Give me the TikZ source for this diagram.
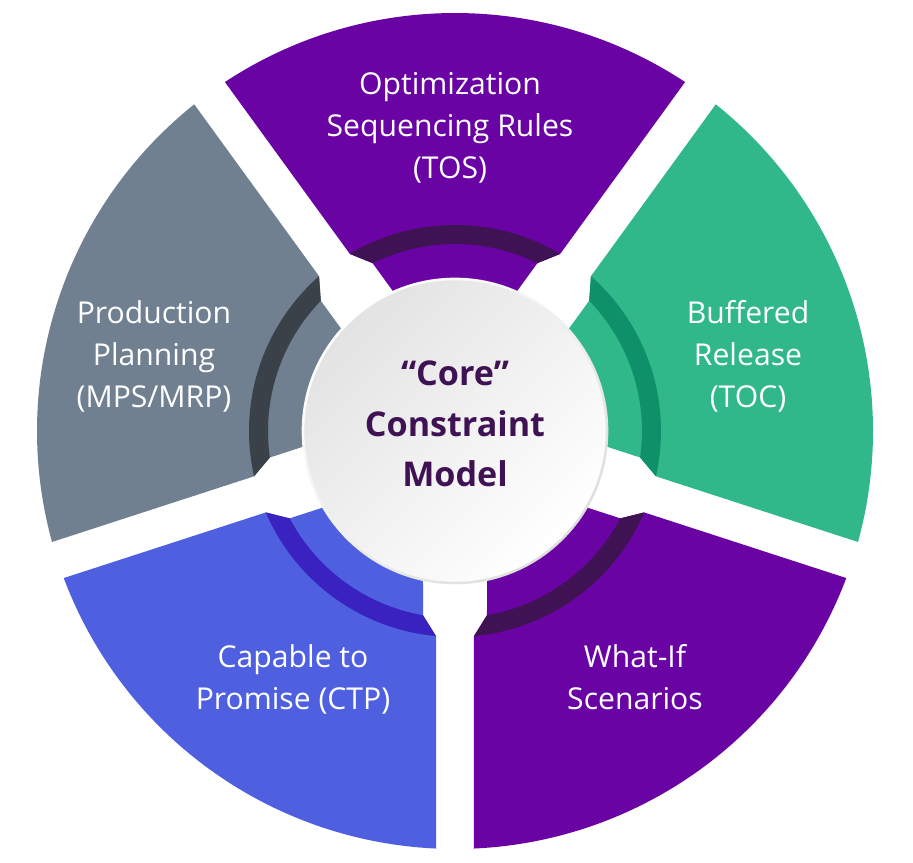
\documentclass[tikz,border=0pt]{standalone}
\usepackage{fontspec}
\setmainfont{Open Sans}
\usepackage{tikz}
\definecolor{plum}{HTML}{6A03A3}
\definecolor{plumdark}{HTML}{3F1253}
\definecolor{jade}{HTML}{31B88A}
\definecolor{jadedark}{HTML}{0E9068}
\definecolor{slate}{HTML}{708090}
\definecolor{slatedark}{HTML}{3A4149}
\definecolor{royal}{HTML}{4E60E0}
\definecolor{royaldark}{HTML}{3A22C0}
\definecolor{rimgray}{HTML}{DEDEDE}
\tikzstyle{label}=[text=white,align=center,font=\fontsize{22.6}{31.5}\selectfont]
\tikzstyle{rim}=[circle,minimum size=230pt,inner sep=0pt,top color=white,bottom color=rimgray,shading angle=45]
\tikzstyle{disc}=[circle,minimum size=226pt,inner sep=0pt,top color=black!11,bottom color=white,shading angle=45]
\tikzstyle{core}=[text=plumdark,align=center,font=\fontsize{25.6}{38}\selectfont\bfseries]
% one wedge of the ring, pointing along #1, with its darker band
\newcommand{\wedgeshape}[3]{
  \begin{scope}[shift={(c)},rotate=#1]
    \fill [#2] (-33.4:418) arc [start angle=-33.4,end angle=33.4,radius=418]
      -- (30.71:206) -- (26.15:187) -- (22.78:140) -- (-22.78:140) -- (-26.15:187) -- (-30.71:206) -- cycle;
    \fill [#3] (-30.71:206) arc [start angle=-30.71,end angle=30.71,radius=206]
      -- (26.15:187) arc [start angle=26.15,end angle=-26.15,radius=187] -- cycle;
  \end{scope}
}

\begin{document}
\begin{tikzpicture}[x=0.75pt,y=0.75pt]
        \useasboundingbox (0,0) rectangle (913,863);
        \coordinate (c) at (455,432);

        \wedgeshape{90}{plum}{plumdark}
        \wedgeshape{18}{jade}{jadedark}
        \wedgeshape{-54}{plum}{plumdark}
        \wedgeshape{-126}{royal}{royaldark}
        \wedgeshape{162}{slate}{slatedark}

        \node at (c) [rim] (rimring) {};
        \node at (c) [disc] (face) {};
        \node at (455,439) [core] (model) {“Core”\\Constraint\\Model};

        \node at (450,735) [label] (tos) {Optimization\\Sequencing Rules\\(TOS)};
        \node at (748,507) [label] (toc) {Buffered\\Release\\(TOC)};
        \node at (154,507) [label] (mps) {Production\\Planning\\(MPS/MRP)};
        \node at (635,186) [label] (whatif) {What-If\\Scenarios};
        \node at (293,184) [label] (ctp) {Capable to\\Promise (CTP)};
      \end{tikzpicture}
\end{document}
